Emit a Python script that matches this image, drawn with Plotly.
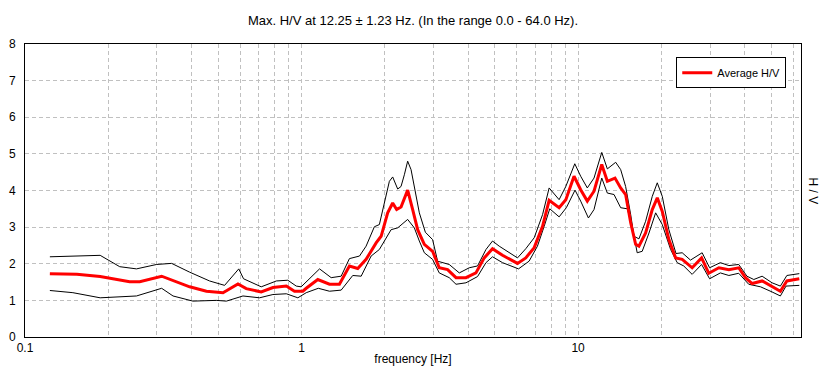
import numpy as np
import plotly.graph_objects as go

# ---- data ----
freq_avg = [0.123, 0.154, 0.187, 0.239, 0.260, 0.312, 0.394, 0.453, 0.520, 0.589, 0.631, 0.715,
            0.788, 0.881, 0.943, 1.011, 1.04, 1.145, 1.262, 1.371, 1.490, 1.597, 1.712, 1.861,
            1.940, 2.049, 2.136, 2.208, 2.29, 2.354, 2.420, 2.523, 2.63, 2.78, 2.978, 3.148,
            3.375, 3.619, 3.932, 4.272, 4.578, 4.905, 5.33, 6.04, 6.47, 6.94, 7.44, 7.86, 8.54,
            9.03, 9.67, 10.22, 10.8, 11.42, 12.18, 12.76, 13.6, 14.26, 14.86, 15.5, 16.15, 16.6,
            17.55, 18.55, 19.34, 20.16, 21.3, 22.53, 23.8, 25.86, 27.97, 29.7, 32.3, 35.1, 38.1,
            40.3, 42.6, 46.3, 50.3, 53.9, 56.9, 59.4, 63.1]
hv_avg = [1.73, 1.71, 1.65, 1.51, 1.51, 1.66, 1.37, 1.25, 1.21, 1.45, 1.32, 1.23,
          1.35, 1.39, 1.25, 1.25, 1.33, 1.57, 1.44, 1.44, 1.94, 1.87, 2.12, 2.57,
          2.75, 3.39, 3.66, 3.48, 3.55, 3.80, 4.01, 3.48, 2.93, 2.53, 2.34, 1.89,
          1.84, 1.62, 1.62, 1.75, 2.16, 2.41, 2.23, 2.01, 2.16, 2.44, 3.02, 3.73, 3.53,
          3.75, 4.39, 4.02, 3.71, 3.98, 4.71, 4.25, 4.34, 4.07, 3.89, 3.12, 2.53, 2.48,
          2.84, 3.48, 3.80, 3.43, 2.66, 2.16, 2.12, 1.89, 2.16, 1.74, 1.89, 1.84, 1.89,
          1.62, 1.46, 1.53, 1.37, 1.25, 1.53, 1.55, 1.59]

freq_up = [0.123, 0.187, 0.220, 0.253, 0.299, 0.339, 0.394, 0.465, 0.527, 0.593, 0.617, 0.715,
           0.811, 0.892, 0.957, 0.997, 1.162, 1.28, 1.391, 1.490, 1.62, 1.712, 1.834, 1.912,
           2.078, 2.136, 2.227, 2.29, 2.354, 2.420, 2.489, 2.594, 2.667, 2.804, 2.978, 3.105,
           3.42, 3.72, 4.04, 4.33, 4.645, 4.905, 5.186, 6.04, 6.47, 6.94, 7.44, 7.86, 8.54,
           9.03, 9.73, 10.22, 10.8, 11.42, 12.18, 12.76, 13.68, 14.26, 14.86, 15.5, 15.93,
           16.6, 17.55, 18.55, 19.34, 20.16, 21.3, 22.6, 23.8, 25.5, 28.1, 29.9, 32.7, 35.1,
           38.1, 40.8, 43.2, 46.3, 50.3, 53.9, 56.9, 63.1]
hv_up = [2.19, 2.23, 1.92, 1.86, 1.98, 2.01, 1.77, 1.53, 1.41, 1.86, 1.59, 1.37,
         1.53, 1.55, 1.39, 1.37, 1.86, 1.62, 1.66, 2.14, 2.21, 2.48, 3.01, 3.07,
         4.25, 4.37, 4.04, 4.11, 4.43, 4.80, 4.57, 3.84, 3.39, 2.86, 2.66, 2.07,
         1.98, 1.75, 1.89, 1.94, 2.39, 2.62, 2.48, 2.16, 2.41, 2.71, 3.34, 4.07, 3.75,
         4.11, 4.73, 4.39, 4.07, 4.34, 5.04, 4.59, 4.77, 4.57, 4.11, 3.34, 2.75,
         2.68, 3.16, 3.84, 4.21, 3.84, 2.93, 2.28, 2.30, 2.10, 2.30, 1.89, 2.03, 1.95,
         1.98, 1.66, 1.57, 1.66, 1.48, 1.39, 1.68, 1.73]

freq_lo = [0.123, 0.149, 0.187, 0.253, 0.312, 0.343, 0.405, 0.492, 0.535, 0.614, 0.705, 0.788,
           0.881, 0.97, 1.04, 1.15, 1.262, 1.391, 1.532, 1.643, 1.785, 1.912, 2.108, 2.227,
           2.420, 2.558, 2.667, 2.78, 2.978, 3.148, 3.42, 3.619, 3.932, 4.33, 4.645, 4.905,
           5.33, 6.09, 6.65, 7.13, 7.54, 7.90, 8.54, 9.07, 9.75, 10.22, 10.9, 11.42, 12.18,
           12.76, 13.49, 14.26, 15.07, 15.7, 16.36, 17.06, 18.05, 19.08, 20.16, 21.61, 22.83,
           24.1, 25.86, 27.97, 29.9, 32.7, 35.1, 38.1, 41.4, 45.7, 50.3, 53.9, 56.5, 63.1]
hv_lo = [1.27, 1.21, 1.07, 1.12, 1.33, 1.12, 0.98, 1.00, 0.98, 1.12, 1.07, 1.16,
         1.18, 1.07, 1.21, 1.33, 1.25, 1.28, 1.68, 1.66, 2.21, 2.39, 2.93, 2.98,
         3.21, 2.98, 2.62, 2.30, 2.12, 1.75, 1.62, 1.44, 1.48, 1.65, 2.03, 2.19,
         2.03, 1.86, 2.07, 2.48, 3.02, 3.50, 3.28, 3.53, 4.01, 3.71, 3.25, 3.48, 4.34,
         3.93, 3.89, 3.53, 3.50, 3.02, 2.30, 2.34, 2.84, 3.39, 3.07, 2.39, 2.03,
         1.94, 1.71, 1.98, 1.59, 1.75, 1.68, 1.74, 1.44, 1.37, 1.23, 1.12, 1.39, 1.41]

x_tick_vals = [0.1, 1, 10]
x_tick_text = ["0.1", "1", "10"]
x_minor_vals = [0.2, 0.3, 0.4, 0.5, 0.6, 0.7, 0.8, 0.9,
                2, 3, 4, 5, 6, 7, 8, 9, 20, 30, 40, 50, 60]
y_tick_vals = [0, 1, 2, 3, 4, 5, 6, 7, 8]

title_text = "Max. H/V at 12.25 \u00b1 1.23 Hz. (In the range 0.0 - 64.0 Hz)."
FONT = "Liberation Sans, Arial, sans-serif"

fig = go.Figure()
fig.add_trace(go.Scatter(x=freq_up, y=hv_up, mode="lines",
                         line=dict(color="black", width=1), showlegend=False, hoverinfo="skip"))
fig.add_trace(go.Scatter(x=freq_lo, y=hv_lo, mode="lines",
                         line=dict(color="black", width=1), showlegend=False, hoverinfo="skip"))
fig.add_trace(go.Scatter(x=freq_avg, y=hv_avg, mode="lines", name="Average H/V",
                         line=dict(color="#ff0000", width=3)))

grid_col = "#c0c0c0"
fig.update_layout(
    width=826, height=381,
    margin=dict(l=25, r=25, t=44, b=44),
    paper_bgcolor="white", plot_bgcolor="white",
    font=dict(family=FONT, size=12, color="black"),
    title=dict(text=title_text, x=0.5, xanchor="center", xref="paper",
               y=1 - 20 / 381, yref="container", yanchor="middle",
               font=dict(family=FONT, size=13, color="black")),
    showlegend=True,
    legend=dict(x=0.981, xanchor="right", y=0.955, yanchor="top",
                bgcolor="white", bordercolor="black", borderwidth=1,
                font=dict(family=FONT, size=11, color="black"),
                itemwidth=30, tracegroupgap=0),
    xaxis=dict(type="log", range=[-1, np.log10(64)], automargin=False,
               tickvals=x_tick_vals, ticktext=x_tick_text, ticks="",
               showgrid=True, gridcolor=grid_col, griddash="4px,3px", gridwidth=1,
               minor=dict(tickvals=x_minor_vals, showgrid=True, gridcolor=grid_col,
                          griddash="4px,3px", gridwidth=1, ticks=""),
               showline=True, linecolor="black", linewidth=1, mirror=True,
               zeroline=False,
               title=dict(text="frequency [Hz]", standoff=0,
                          font=dict(family=FONT, size=12, color="black"))),
    yaxis=dict(range=[0, 8], tickvals=y_tick_vals, ticks="", automargin=False,
               showgrid=True, gridcolor=grid_col, griddash="4px,3px", gridwidth=1,
               showline=True, linecolor="black", linewidth=1, mirror=True,
               zeroline=False, ticklabelstandoff=6),
)
fig.add_annotation(text="H / V", textangle=90, xref="paper", yref="paper",
                   x=1.0, y=0.5, xanchor="left", yanchor="middle", xshift=3,
                   showarrow=False, font=dict(family=FONT, size=12, color="black"))

fig.write_html("out.html", config={"displayModeBar": False},
               post_script="document.body.style.margin='0';document.body.style.overflow='hidden';")
